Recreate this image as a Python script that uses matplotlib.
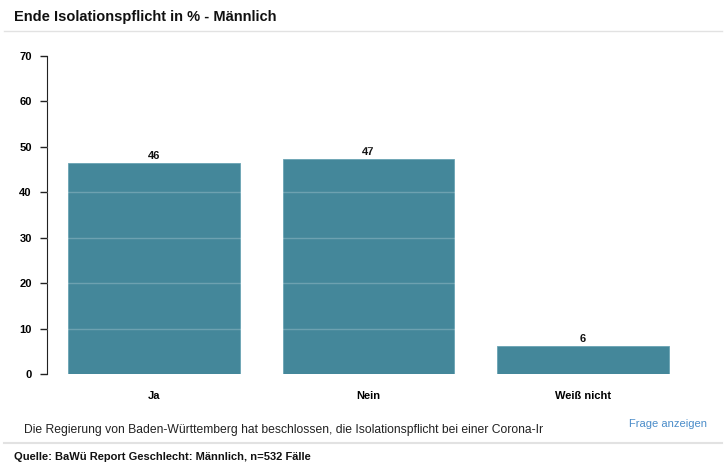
import matplotlib
matplotlib.use("Agg")
import matplotlib.pyplot as plt
from matplotlib.lines import Line2D
from matplotlib.patches import Rectangle

plt.rcParams['font.family'] = ['Liberation Sans', 'DejaVu Sans']

# Data
categories = ['Ja', 'Nein', 'Weiß nicht']
values = [46.4, 47.4, 6.2]
labels = ['46', '47', '6']
yticks = [0, 10, 20, 30, 40, 50, 60, 70]

W, H = 726, 470
fig = plt.figure(figsize=(W / 100, H / 100), dpi=100)

ax = fig.add_axes([47 / W, 1 - 374 / H, (690 - 47) / W, (374 - 56) / H])
x = range(len(categories))
bars = ax.bar(x, values, width=0.8, color='#44879a', edgecolor='#6aa3b3', linewidth=0.6, zorder=2)
for b, lab in zip(bars, labels):
    ax.text(b.get_x() + b.get_width() / 2, b.get_height() + 0.4, lab,
            ha='center', va='bottom', fontsize=8, fontweight='bold', color='#111111')

# faint grid lines that only show on the bars
for t in yticks[1:-1]:
    ax.axhline(t, color='white', alpha=0.22, linewidth=1, zorder=3)

ax.set_xlim(-0.5, 2.5)
ax.set_ylim(0, 70)
ax.set_yticks(yticks)
ax.set_xticks(list(x))
ax.set_xticklabels(categories, fontsize=8, fontweight='bold')
for lab in ax.get_yticklabels():
    lab.set_fontweight('bold')
    lab.set_fontsize(8)
ax.tick_params(axis='x', length=0, pad=12)
ax.tick_params(axis='y', length=5, width=1, pad=6, color='#222222')
for s in ['top', 'right', 'bottom']:
    ax.spines[s].set_visible(False)
ax.spines['left'].set_color('#222222')

# title and frame texts
fig.text(14 / W, 1 - 17 / H, 'Ende Isolationspflicht in % - Männlich',
         fontsize=10.5, fontweight='bold', va='center', ha='left', color='#111111')
fig.add_artist(Line2D([4 / W, 722 / W], [1 - 31 / H, 1 - 31 / H], color='#e2e2e2', linewidth=1))

fig.text(24 / W, 1 - 430 / H,
         'Die Regierung von Baden-Württemberg hat beschlossen, die Isolationspflicht bei einer Corona-Inf',
         fontsize=8.7, va='center', ha='left', color='#222222')
# the question text is cut off in the box
cover = Rectangle((543 / W, 1 - 439 / H), 60 / W, 18 / H, transform=fig.transFigure,
                  facecolor='white', edgecolor='none', zorder=10)
fig.add_artist(cover)

fig.text(629 / W, 1 - 424 / H, 'Frage anzeigen', fontsize=8, va='center', ha='left', color='#4a8cc9')
fig.add_artist(Line2D([4 / W, 722 / W], [1 - 443 / H, 1 - 443 / H], color='#e2e2e2', linewidth=1.5))
fig.text(14 / W, 1 - 457 / H, 'Quelle: BaWü Report Geschlecht: Männlich, n=532 Fälle',
         fontsize=8, fontweight='bold', va='center', ha='left', color='#111111')

fig.savefig('out.png', dpi=100)
